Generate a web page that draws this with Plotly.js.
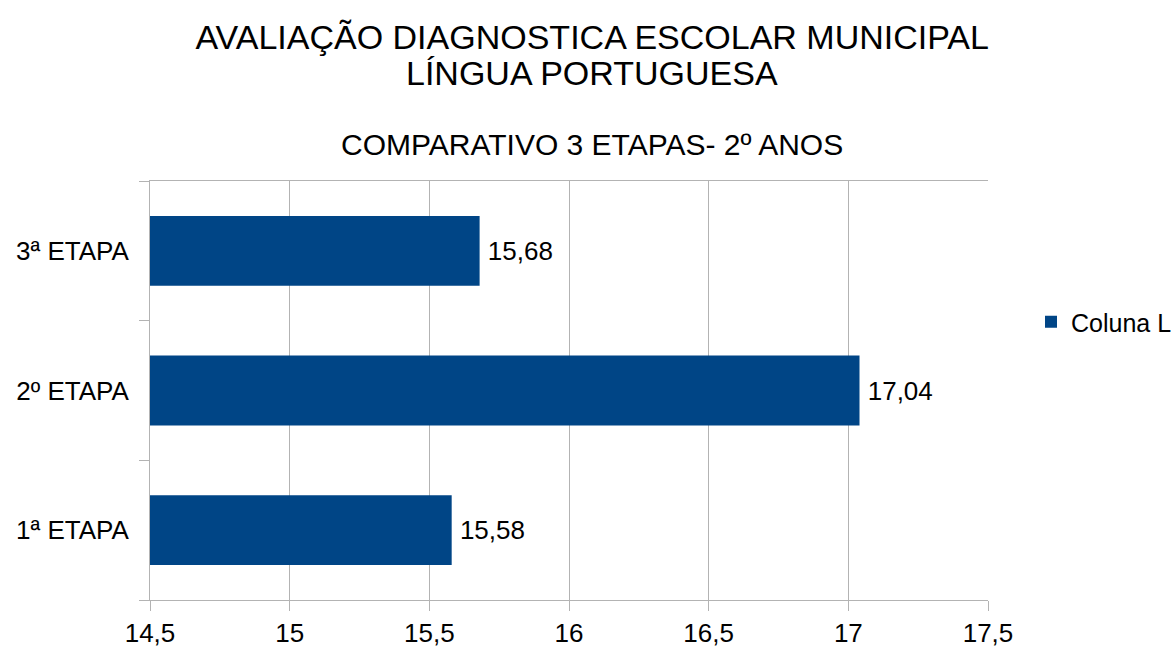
<!DOCTYPE html>
<html>
<head>
<meta charset="utf-8">
<script src="https://cdn.plot.ly/plotly-3.0.1.min.js"></script>
<style>html,body{margin:0;padding:0;background:#fff;}#chart{width:1175px;height:647px;}</style>
</head>
<body>
<div id="chart"></div>
<script>
const categories = ['1ª ETAPA', '2º ETAPA', '3ª ETAPA'];
const values = [15.58, 17.04, 15.68];
const seriesName = 'Coluna L';
const xTicks = [14.5, 15, 15.5, 16, 16.5, 17, 17.5];

const FONT = 'Liberation Sans, Arial, sans-serif';
const GRID = '#b3b3b3';

const trace = {
  type: 'bar',
  orientation: 'h',
  x: values,
  y: categories,
  name: seriesName,
  marker: {color: '#004586'},
  text: values,
  texttemplate: '\u2009%{x:.2f}',
  textposition: 'outside',
  textfont: {family: FONT, size: 26, color: '#000'},
  cliponaxis: false,
  hoverinfo: 'none'
};

const layout = {
  width: 1175,
  height: 647,
  margin: {l: 150, r: 187, t: 181, b: 47, autoexpand: false},
  paper_bgcolor: '#fff',
  plot_bgcolor: '#fff',
  separators: ',.',
  font: {family: FONT, size: 26, color: '#000'},
  title: {
    text: 'AVALIAÇÃO DIAGNOSTICA ESCOLAR MUNICIPAL',
    font: {family: FONT, size: 34, color: '#000'},
    x: 0.504, xref: 'container', xanchor: 'center',
    y: 1 - 37/647, yref: 'container', yanchor: 'middle'
  },
  annotations: [
    {text: 'LÍNGUA PORTUGUESA', xref: 'paper', yref: 'paper',
     x: (592 - 150) / 838, y: (600 - 73) / 419, xanchor: 'center', yanchor: 'middle',
     showarrow: false, font: {family: FONT, size: 34, color: '#000'}},
    {text: 'COMPARATIVO 3 ETAPAS- 2º ANOS', xref: 'paper', yref: 'paper',
     x: (592 - 150) / 838, y: (600 - 144) / 419, xanchor: 'center', yanchor: 'middle',
     showarrow: false, font: {family: FONT, size: 30, color: '#000'}}
  ],
  bargap: 0.5,
  xaxis: {
    range: [14.5, 17.5],
    tickvals: xTicks,
    tickformat: '.1~f',
    showgrid: true, gridcolor: GRID, gridwidth: 1,
    showline: true, linecolor: GRID, linewidth: 1, mirror: true,
    ticks: 'outside', ticklen: 10, tickcolor: GRID,
    zeroline: false,
    tickfont: {family: FONT, size: 26, color: '#000'},
    fixedrange: true
  },
  yaxis: {
    type: 'category',
    showline: true, linecolor: GRID, linewidth: 1,
    showgrid: false,
    ticks: 'outside', tickson: 'boundaries', ticklen: 10, tickcolor: GRID,
    tickfont: {family: FONT, size: 26, color: '#000'},
    ticklabelstandoff: 15,
    fixedrange: true
  },
  showlegend: true,
  legend: {
    x: (1031 - 150) / 838, xanchor: 'left',
    y: (600 - 322) / 419, yanchor: 'middle',
    font: {family: FONT, size: 25, color: '#000'},
    itemwidth: 30,
    bgcolor: 'rgba(0,0,0,0)'
  }
};

Plotly.newPlot('chart', [trace], layout, {displayModeBar: false, staticPlot: true});
</script>
</body>
</html>
